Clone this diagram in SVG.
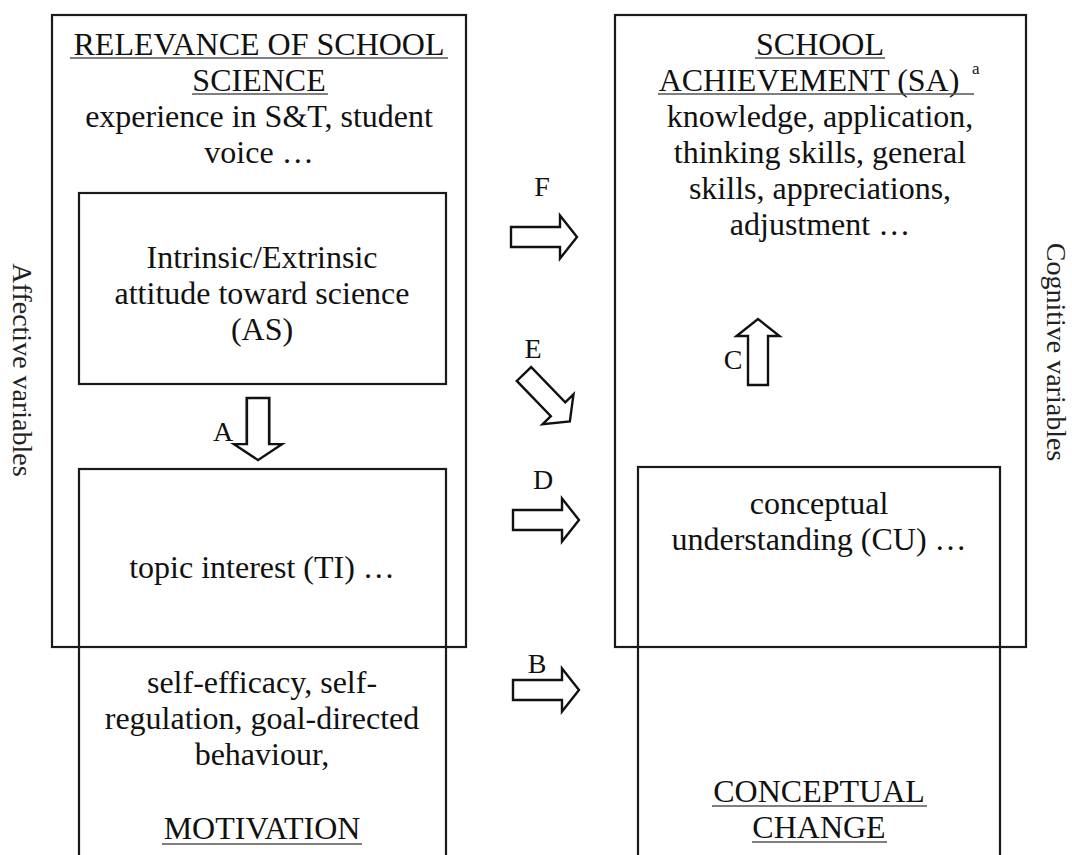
<svg xmlns="http://www.w3.org/2000/svg" width="1072" height="855" viewBox="0 0 1072 855">
<style>
.box{fill:none;stroke:#1a1a1a;stroke-width:2.2}
.t{font-family:"Liberation Serif","Times New Roman",serif;font-size:32px;fill:#111;text-anchor:middle}
.lbl{font-family:"Liberation Serif","Times New Roman",serif;font-size:28px;fill:#111;text-anchor:middle}
.side{font-family:"Liberation Serif","Times New Roman",serif;font-size:28px;fill:#222;text-anchor:middle}
.ul{stroke:#555;stroke-width:1.6}
.arr{fill:#fff;stroke:#111;stroke-width:2.4;stroke-linejoin:miter}
</style>
<defs>
<polygon id="arrow" points="0,-10 49,-10 49,-21.5 66,0 49,21.5 49,10 0,10"/>
</defs>
<rect width="1072" height="855" fill="#fff"/>

<g id="relevance">
<rect class="box" x="52" y="15" width="414" height="632"/>
<text class="t" x="259" y="55">RELEVANCE OF SCHOOL</text>
<line class="ul" x1="70" y1="58" x2="448" y2="58"/>
<text class="t" x="259" y="91">SCIENCE</text>
<line class="ul" x1="192" y1="94" x2="328" y2="94"/>
<text class="t" x="259" y="127">experience in S&amp;T, student</text>
<text class="t" x="259" y="163">voice …</text>
</g>

<g id="attitude">
<rect class="box" x="79" y="193" width="367" height="191"/>
<text class="t" x="262" y="268">Intrinsic/Extrinsic</text>
<text class="t" x="262" y="304">attitude toward science</text>
<text class="t" x="262" y="340">(AS)</text>
</g>

<g id="motivation">
<rect class="box" x="79" y="469" width="367" height="420"/>
<text class="t" x="262" y="578">topic interest (TI) …</text>
<text class="t" x="262" y="693">self-efficacy, self-</text>
<text class="t" x="262" y="729">regulation, goal-directed</text>
<text class="t" x="262" y="765">behaviour,</text>
<text class="t" x="262" y="839">MOTIVATION</text>
<line class="ul" x1="162" y1="844" x2="362" y2="844"/>
</g>

<g id="achievement">
<rect class="box" x="615" y="15" width="411" height="632"/>
<text class="t" x="820" y="55">SCHOOL</text>
<line class="ul" x1="755" y1="58" x2="885" y2="58"/>
<text class="t" x="809" y="91">ACHIEVEMENT (SA)</text>
<text x="972" y="74" style="font-family:'Liberation Serif',serif;font-size:17px;fill:#111">a</text>
<line class="ul" x1="658" y1="94" x2="974" y2="94"/>
<text class="t" x="820" y="127">knowledge, application,</text>
<text class="t" x="820" y="163">thinking skills, general</text>
<text class="t" x="820" y="199">skills, appreciations,</text>
<text class="t" x="820" y="235">adjustment …</text>
</g>

<g id="conceptual">
<rect class="box" x="638" y="467" width="362" height="420"/>
<text class="t" x="819" y="514">conceptual</text>
<text class="t" x="819" y="550">understanding (CU) …</text>
<text class="t" x="819" y="802">CONCEPTUAL</text>
<line class="ul" x1="712" y1="806" x2="927" y2="806"/>
<text class="t" x="819" y="838">CHANGE</text>
<line class="ul" x1="752" y1="842" x2="887" y2="842"/>
</g>

<g id="side-labels">
<text class="side" transform="translate(13,370) rotate(90)">Affective variables</text>
<text class="side" transform="translate(1047,352) rotate(90)">Cognitive variables</text>
</g>

<g id="connectors">
<use href="#arrow" class="arr" transform="translate(511,237)"/>
<text class="lbl" x="542" y="196">F</text>
<use href="#arrow" class="arr" transform="translate(524,374) rotate(46)"/>
<text class="lbl" x="533" y="358">E</text>
<use href="#arrow" class="arr" transform="translate(513,520)"/>
<text class="lbl" x="543" y="489">D</text>
<use href="#arrow" class="arr" transform="translate(513,690)"/>
<text class="lbl" x="537" y="673">B</text>
<use href="#arrow" class="arr" transform="translate(258,398) rotate(90) scale(0.94,1.12)"/>
<text class="lbl" x="223" y="441">A</text>
<use href="#arrow" class="arr" transform="translate(758,385) rotate(-90)"/>
<text class="lbl" x="733" y="369">C</text>
</g>
</svg>
